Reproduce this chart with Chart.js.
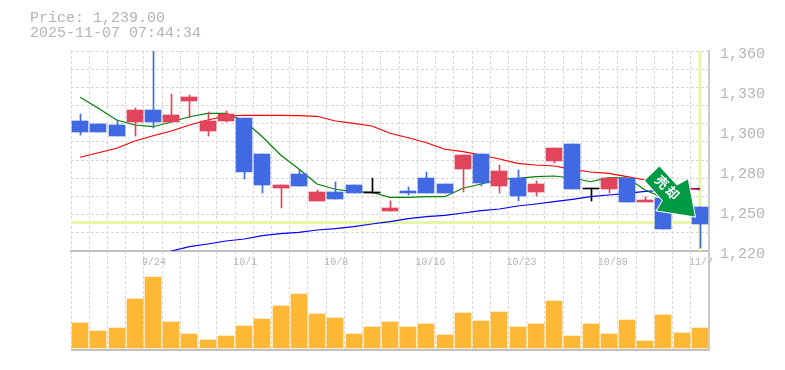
<!DOCTYPE html>
<html>
<head>
<meta charset="utf-8">
<script src="https://cdn.jsdelivr.net/npm/chart.js@4"></script>
<style>
  html, body { margin: 0; padding: 0; background: #fff; }
  #wrap { position: relative; width: 785px; height: 370px; }
  #head { position: absolute; left: 30px; top: 11px; font: 15px/15px "Liberation Mono", monospace; color: #b4b4b4; white-space: pre; }
</style>
</head>
<body>
<div id="wrap">
  <canvas id="stockChart" width="785" height="370"></canvas>
  <div id="head">Price: 1,239.00
2025-11-07 07:44:34</div>
</div>
<script>
const dates = ['9/18','9/19','9/22','9/23','9/24','9/25','9/26','9/29','9/30','10/1','10/2','10/3','10/6','10/7','10/8','10/9','10/10','10/14','10/15','10/16','10/17','10/20','10/21','10/22','10/23','10/24','10/27','10/28','10/29','10/30','10/31','11/4','11/5','11/6','11/7'];
const shownDates = ['9/24','10/1','10/8','10/16','10/23','10/30','11/7'];

const opens  = [1311,1308.9,1308.2,1310.3,1318.7,1310.3,1325,1304,1311,1313.1,1287.9,1264.1,1273.9,1255,1261.3,1266.2,1261.3,1248,1262,1271.1,1266.9,1277.4,1287.9,1265.5,1271.1,1261.3,1283,1294.9,1264.1,1263.4,1271.1,1254.3,1257.1,1252.2,1250.8];
const closes = [1303.3,1303.3,1300.5,1318.7,1310.3,1315.2,1327.8,1311,1315.9,1275.3,1266.2,1266.2,1265.5,1261.3,1256.4,1260.6,1261.3,1250.1,1260.6,1260.6,1260.6,1287.2,1267.6,1276,1258.5,1266.9,1292.1,1263.4,1264.1,1271.1,1254.3,1255.7,1235.4,1257.1,1239];
const highs  = [1315.9,1308.9,1311.7,1320.1,1360,1329.9,1329.2,1317.3,1318,1313.1,1287.9,1266.2,1276.7,1262.7,1268.3,1266.2,1271.1,1255,1264.8,1275.3,1266.9,1287.2,1287.9,1280.2,1276.7,1269,1292.1,1294.9,1264.1,1271.1,1271.1,1257.8,1257.1,1257.1,1250.8];
const lows   = [1301.2,1303.3,1300.5,1300.5,1306.1,1310.3,1313.1,1300.5,1310.3,1270.4,1260.6,1250.1,1265.5,1255,1256.4,1260.6,1260.6,1248,1259.2,1260.6,1260.6,1261.3,1265.5,1260.6,1255,1258.5,1281.6,1263.4,1255,1260.6,1254.3,1254.3,1235.4,1252.2,1222];
const volumes = [25,17,20,49,71,26,14,8,12,22,29,42,54,34,30,14,21,26,21,24,13,35,27,36,21,24,47,12,24,14,28,7,33,15,20];

const maShort = [1327.6,1319.9,1311.7,1308.2,1307,1310.3,1314,1316.4,1316.4,1311,1300,1287.2,1277.4,1266.9,1263.2,1261.5,1261.1,1257.6,1257.6,1258,1258,1263.9,1266.9,1270.2,1270.9,1272,1272.5,1271.1,1268.5,1271.3,1271.1,1262.7,1257.1,1252.2,1247.3];
const maMid   = [1285.6,1288.8,1291.9,1297,1300.7,1304,1308.2,1311.7,1314.5,1315,1315,1315,1314.7,1314.3,1311,1309.4,1307.5,1302.4,1299.3,1295.8,1291.2,1289.5,1287.2,1284.4,1281.4,1280.2,1279.5,1277.2,1275.3,1274.4,1272,1269.7,1267.6,1265.2,1262.7];
const maLong  = [null,null,null,null,null,1220,1223,1224.9,1227,1228.4,1230.7,1232.1,1233.1,1234.7,1235.6,1237,1238.9,1240.5,1242.6,1244,1245,1246.6,1248.2,1249.4,1251.5,1252.9,1254.5,1256.2,1258,1259.2,1260.4,1261.8,1262.4,1263,1263.9];

const gridTicks = [1360,1347.3,1334.5,1321.8,1309.1,1296.4,1283.6,1270.9,1258.2,1245.5,1232.7,1220];
const labelTicks = [1360,1332,1304,1276,1248,1220];
const labelTexts = ['1,360','1,330','1,300','1,280','1,250','1,220'];
const crossPrice = 1240;

const upColor = '#e2445c', downColor = '#4169e1', flatColor = '#000000';
const candleColors = opens.map((o, i) => closes[i] > o ? upColor : closes[i] < o ? downColor : flatColor);
const bodies = opens.map((o, i) => [o, closes[i]]);
const wicks = lows.map((l, i) => [l, highs[i]]);

// snap bars to whole pixels so the candles stay sharp
const snapBars = {
  id: 'snapBars',
  afterDatasetsUpdate(chart) {
    chart.data.datasets.forEach((ds, d) => {
      if (ds.type !== 'bar') return;
      const isWick = ds.label === 'wick';
      chart.getDatasetMeta(d).data.forEach(bar => {
        bar.x = isWick ? Math.round(bar.x) + 0.5 : Math.round(bar.x);
        bar.y = Math.round(bar.y);
        bar.base = Math.round(bar.base);
        if (bar.y === bar.base) bar.base += 1; // doji
        bar.height = bar.base - bar.y;
      });
    });
  }
};

// crosshair and the green badge
const overlay = {
  id: 'overlay',
  beforeDatasetsDraw(chart) {
    const { ctx, chartArea, scales } = chart;
    const py = scales.y.getPixelForValue(crossPrice);
    const px = scales.x.getPixelForValue(dates.length - 1);
    ctx.save();
    ctx.strokeStyle = '#e6f5a8';
    ctx.lineWidth = 3;
    ctx.beginPath();
    ctx.moveTo(chartArea.left, py);
    ctx.lineTo(chartArea.right, py);
    ctx.moveTo(px, chartArea.top);
    ctx.lineTo(px, scales.y.bottom);
    ctx.stroke();
    ctx.restore();
  },
  afterDatasetsDraw(chart) {
    const { ctx, scales } = chart;
    const tx = scales.x.getPixelForValue(dates.length - 1) - 5;
    const ty = scales.y.getPixelForValue(crossPrice) - 6;
    ctx.save();
    ctx.translate(tx, ty);
    ctx.beginPath();
    ctx.moveTo(-35.5, -50);
    ctx.lineTo(-50, -36);
    ctx.lineTo(-32, -16);
    ctx.lineTo(-38, -6);
    ctx.lineTo(0, 0);
    ctx.lineTo(-7, -37);
    ctx.lineTo(-18, -31);
    ctx.closePath();
    ctx.fillStyle = '#009944';
    ctx.strokeStyle = '#ffffff';
    ctx.lineWidth = 2;
    ctx.stroke();
    ctx.fill();
    ctx.translate(-27.5, -29);
    ctx.rotate(Math.PI / 4);
    ctx.fillStyle = '#ffffff';
    ctx.font = 'bold 13px "Noto Sans CJK JP"';
    ctx.textAlign = 'center';
    ctx.textBaseline = 'middle';
    ctx.fillText('売', -7.5, 0);
    ctx.fillText('却', 7.5, 0);
    ctx.restore();
  }
};

new Chart(document.getElementById('stockChart'), {
  data: {
    labels: dates,
    datasets: [
      { type: 'line', label: 'short', data: maShort, borderColor: '#008000', borderWidth: 1.2, pointRadius: 0, tension: 0, yAxisID: 'y', order: 4 },
      { type: 'line', label: 'mid', data: maMid, borderColor: '#ff0000', borderWidth: 1.2, pointRadius: 0, tension: 0, yAxisID: 'y', order: 4 },
      { type: 'line', label: 'long', data: maLong, borderColor: '#0000ff', borderWidth: 1.2, pointRadius: 0, tension: 0, yAxisID: 'y', order: 4 },
      { type: 'bar', label: 'wick', data: wicks, backgroundColor: candleColors, barThickness: 1, grouped: false, yAxisID: 'y', order: 3 },
      { type: 'bar', label: 'body', data: bodies, backgroundColor: candleColors, barThickness: 16, grouped: false, yAxisID: 'y', order: 2 },
      { type: 'bar', label: 'volume', data: volumes, backgroundColor: '#ffb835', barThickness: 16, grouped: false, yAxisID: 'yv', order: 1 }
    ]
  },
  plugins: [snapBars, overlay],
  options: {
    responsive: false,
    animation: false,
    devicePixelRatio: 1,
    layout: { padding: { left: 71, top: 51, right: 0, bottom: 20 } },
    plugins: { legend: { display: false }, tooltip: { enabled: false } },
    scales: {
      x: {
        type: 'category',
        offset: true,
        position: { y: 1220 },
        border: { color: '#c0c0c0', width: 2, dash: [3, 2] },
        grid: { offset: true, color: '#d8d8d8', lineWidth: 1, drawTicks: false },
        ticks: {
          autoSkip: false,
          maxRotation: 0,
          minRotation: 0,
          align: 'start',
          labelOffset: -11,
          padding: 5,
          color: '#b4b4b4',
          font: { family: 'Liberation Mono', size: 10 },
          callback(value) {
            const d = this.getLabelForValue(value);
            return shownDates.includes(d) ? d : '';
          }
        }
      },
      y: {
        position: 'right',
        stack: 'main',
        stackWeight: 200,
        min: 1220,
        max: 1360,
        afterFit(scale) { scale.width = 76; },
        afterBuildTicks(scale) {
          scale.ticks = [...new Set(gridTicks.concat(labelTicks))].map(v => ({ value: v }));
        },
        border: { color: '#cccccc', width: 2, dash: [3, 2] },
        grid: {
          drawTicks: false,
          color: ctx => gridTicks.includes(ctx.tick.value) ? '#d8d8d8' : 'rgba(0,0,0,0)'
        },
        ticks: {
          autoSkip: false,
          padding: 11,
          labelOffset: 3,
          color: '#b4b4b4',
          font: { family: 'Liberation Mono', size: 15 },
          callback(value) {
            const i = labelTicks.indexOf(value);
            return i < 0 ? '' : labelTexts[i];
          }
        }
      },
      yv: {
        position: 'right',
        stack: 'main',
        stackWeight: 99,
        min: -2,
        max: 97,
        afterFit(scale) { scale.width = 76; },
        afterBuildTicks(scale) { scale.ticks = [{ value: -2 }]; },
        border: { color: '#cccccc', width: 2 },
        grid: { drawTicks: false, color: '#c0c0c0', lineWidth: 2 },
        ticks: { display: false }
      }
    }
  }
});
</script>
</body>
</html>
